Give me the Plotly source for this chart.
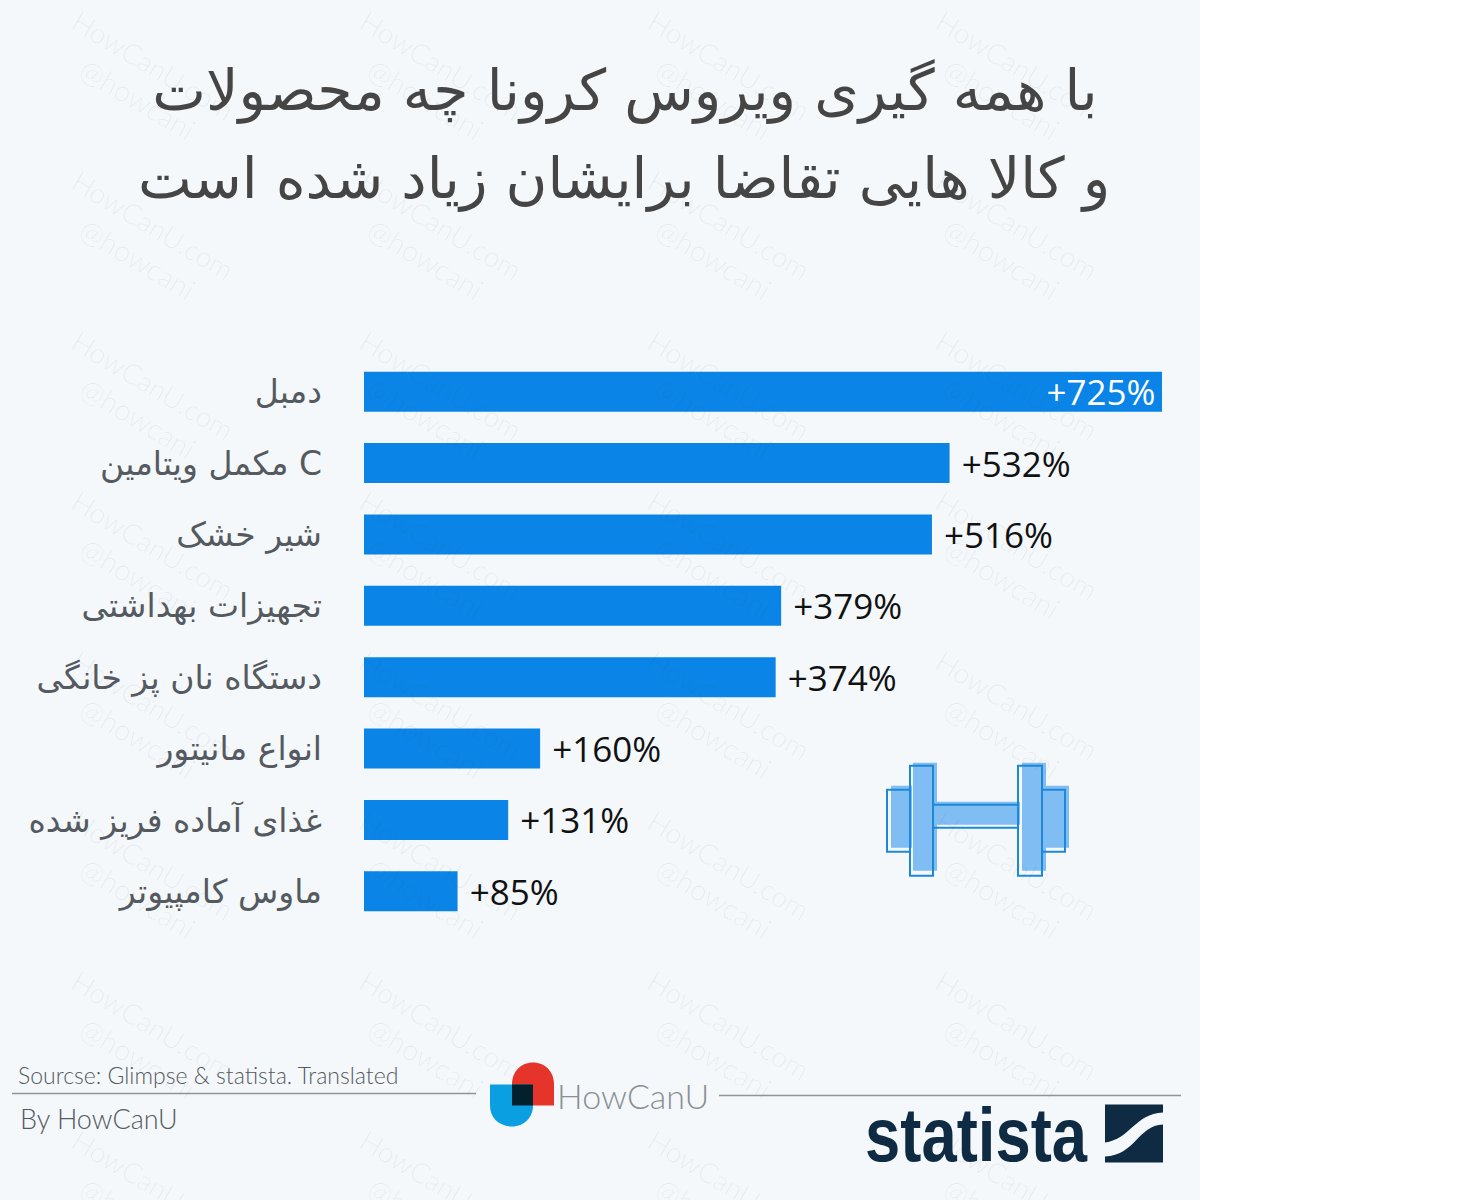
import plotly.graph_objects as go

categories = ["دمبل", "مکمل ویتامین C", "شیر خشک", "تجهیزات بهداشتی",
              "دستگاه نان پز خانگی", "انواع مانیتور", "غذای آماده فریز شده", "ماوس کامپیوتر"]
values = [725, 532, 516, 379, 374, 160, 131, 85]
title_line_1 = "با همه گیری ویروس کرونا چه محصولات"
title_line_2 = "و کالا هایی تقاضا برایشان زیاد شده است"
source_text = "Sourcse: Glimpse & statista. Translated"
byline_text = "By HowCanU"
brand_text = "HowCanU"
logo_text = "statista"
watermark_1 = "HowCanU.com"
watermark_2 = "@howcani"

W, H = 1200, 1200
L, R, T, B = 364, 1162, 356, 927.4
BG = "#f4f8fb"
BAR = "#0a84e6"
FA = "DejaVu Sans"
LAT = "Lato Light, Lato"


def px(x):
    return (x - L) / (R - L)


def py(y):
    return (B - y) / (B - T)


def rect(x0, y0, x1, y1, fill="rgba(0,0,0,0)", line=None, lw=2):
    return dict(type="rect", xref="paper", yref="paper", x0=px(x0), x1=px(x1), y0=py(y0), y1=py(y1),
                fillcolor=fill, line=dict(color=line, width=lw if line else 0), layer="above")


def seg(x0, y0, x1, y1, color, lw=2):
    return dict(type="line", xref="paper", yref="paper", x0=px(x0), x1=px(x1), y0=py(y0), y1=py(y1),
                line=dict(color=color, width=lw), layer="above")


def path(cmds, fill):
    out = []
    for c, pts in cmds:
        out.append(c + " ".join(f"{px(a):.5f},{py(b):.5f}" for a, b in pts))
    return dict(type="path", xref="paper", yref="paper", path=" ".join(out) + " Z", fillcolor=fill,
                line=dict(width=0), layer="above")


def note(x, y, text, size, color, family=LAT, anchor="left", angle=0):
    return dict(xref="paper", yref="paper", x=px(x), y=py(y), text=text, showarrow=False, xanchor=anchor,
                yanchor="middle", textangle=angle, font=dict(family=family, size=size, color=color))


labels = [f"+{values[0]}%\u200a"] + [f"\u00a0+{v}%" for v in values[1:]]

fig = go.Figure(go.Bar(
    x=values, y=categories, orientation="h", marker=dict(color=BAR, line=dict(width=0)),
    text=labels,
    textposition=["inside"] + ["outside"] * (len(values) - 1),
    insidetextanchor="end", constraintext="none", textangle=0, cliponaxis=False,
    textfont=dict(family="Open Sans", size=35),
    insidetextfont=dict(family="Open Sans", size=35, color="#ffffff"),
    outsidetextfont=dict(family="Open Sans", size=35, color="#111111"),
    hoverinfo="skip"))

annotations = []
for row in range(8):
    for col in range(4):
        dx, dy = 288 * col, 160 * row
        annotations.append(note(153 + dx, 65 + dy, watermark_1, 28, "rgba(60,70,80,0.07)", anchor="center", angle=31))
        annotations.append(note(138 + dx, 98 + dy, watermark_2, 29, "rgba(60,70,80,0.07)", anchor="center", angle=31))

annotations += [
    note(624, 178, title_line_2, 57, "#454545", FA, "center"),
    note(16, 1076, source_text, 23, "#555a60"),
    note(18, 1119, byline_text, 27, "#555a60"),
    note(555, 1096, brand_text, 34, "#8a8f94"),
    note(976, 1135, f"<b>{logo_text}</b>", 76, "#0f2a43", "Liberation Sans", "center"),
]

OUT = "#1e88d8"
FILL = "#80bdf3"
shapes = [
    # divider lines
    seg(12, 1094, 476, 1094, "#8f9499", 1.5),
    seg(719, 1096, 1181, 1096, "#8f9499", 1.5),
    # dumbbell fill
    rect(891, 786, 912, 848, FILL), rect(913, 763, 937, 871, FILL), rect(935, 802, 1020, 825, FILL),
    rect(1022, 763, 1046, 871, FILL), rect(1044, 786, 1069, 848, FILL),
    # dumbbell outline
    rect(887, 790, 910, 852, line=OUT), rect(910, 766, 933, 876, line=OUT),
    seg(933, 805, 1018, 805, OUT), seg(933, 828, 1018, 828, OUT),
    rect(1018, 766, 1042, 876, line=OUT), rect(1042, 790, 1065, 852, line=OUT),
    # HowCanU logo
    path([("M", [(512, 1106)]), ("L", [(512, 1085)]), ("C", [(512, 1072), (521, 1063), (533, 1063)]),
          ("C", [(545, 1063), (554, 1072), (554, 1085)]), ("L", [(554, 1106)])], "#e5352b"),
    path([("M", [(490, 1085)]), ("L", [(533, 1085)]), ("L", [(533, 1106)]),
          ("C", [(533, 1118), (524, 1127), (512, 1127)]), ("C", [(499, 1127), (490, 1118), (490, 1106)])], "#0a9fe0"),
    rect(512, 1085, 533, 1106, "#03212c"),
    # statista mark
    path([("M", [(1105, 1105)]), ("L", [(1163, 1105)]), ("L", [(1163, 1113)]),
          ("C", [(1135, 1114), (1130, 1140), (1105, 1143)])], "#0f2a43"),
    path([("M", [(1105, 1157)]), ("C", [(1135, 1156), (1138, 1126), (1163, 1125)]),
          ("L", [(1163, 1163)]), ("L", [(1105, 1163)])], "#0f2a43"),
]

fig.update_layout(
    width=W, height=H, margin=dict(l=L, r=W - R, t=T, b=H - B, autoexpand=False),
    paper_bgcolor=BG, plot_bgcolor="rgba(0,0,0,0)", showlegend=False, bargap=0.44,
    title=dict(text=title_line_1, x=625 / W, xanchor="center", xref="container",
               y=1 - 90 / H, yanchor="middle", yref="container",
               font=dict(family=FA, size=57, color="#454545")),
    xaxis=dict(range=[0, 725], visible=False, fixedrange=True),
    yaxis=dict(autorange="reversed", showline=False, showgrid=False, ticks="", zeroline=False, fixedrange=True,
               ticklabelstandoff=41, tickfont=dict(family=FA, size=33, color="#555a60")),
    annotations=annotations, shapes=shapes,
)

post = """
document.body.style.margin='0';
document.querySelectorAll('.annotation-text').forEach(function(t){
  if (t.textContent === 'statista') {
    t.setAttribute('textLength','222');
    t.setAttribute('lengthAdjust','spacingAndGlyphs');
  }
});
"""
fig.write_html("out.html", config=dict(displayModeBar=False), post_script=post)
